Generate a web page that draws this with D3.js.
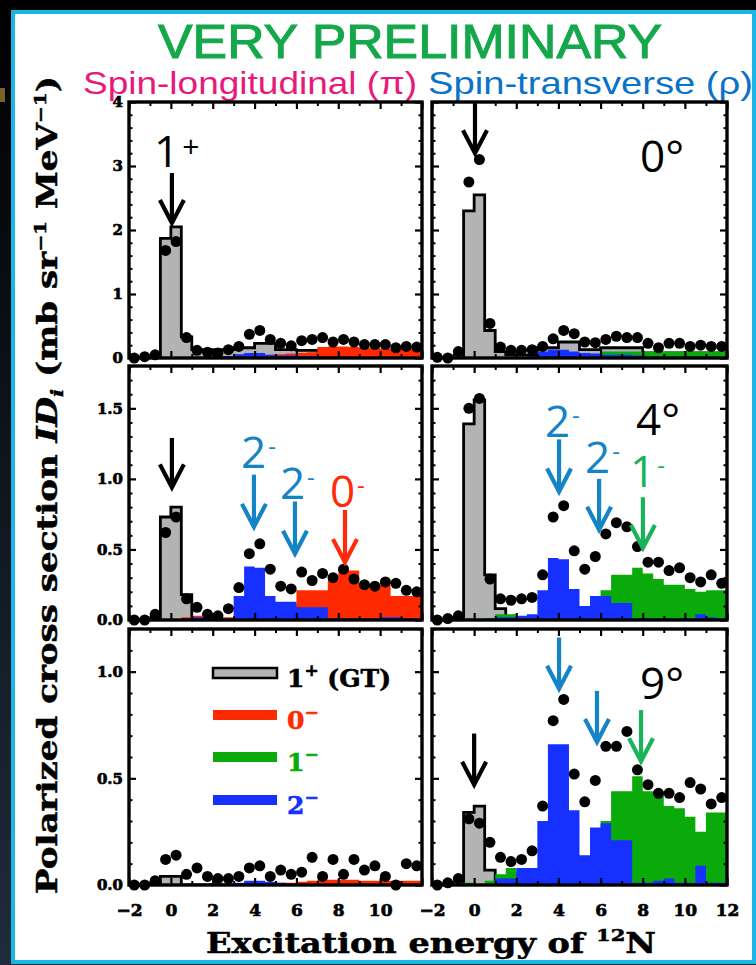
<!DOCTYPE html>
<html><head><meta charset="utf-8">
<script src="https://cdn.jsdelivr.net/npm/d3@7"></script>
<style>body{margin:0;background:#000;}svg{display:block}</style>
</head><body>
<svg id="c" width="756" height="965"></svg>
<script>
// ---------------- DATA ----------------
const energies = [-1.75,-1.25,-0.75,-0.25,0.25,0.75,1.25,1.75,2.25,2.75,3.25,3.75,4.25,4.75,5.25,5.75,6.25,6.75,7.25,7.75,8.25,8.75,9.25,9.75,10.25,10.75,11.25,11.75];
const binStarts = [-2,-1.5,-1,-0.5,0,0.5,1,1.5,2,2.5,3,3.5,4,4.5,5,5.5,6,6.5,7,7.5,8,8.5,9,9.5,10,10.5,11,11.5];
const binEnd = 12;
const xTickLabels = [-2,0,2,4,6,8,10,12];

// 0 deg, spin-longitudinal
const dotsTL  = [0.0,0.02,0.05,1.68,1.82,0.32,0.12,0.09,0.08,0.13,0.18,0.37,0.43,0.29,0.23,0.19,0.27,0.29,0.32,0.25,0.29,0.25,0.21,0.21,0.21,0.16,0.18,0.17];
const grayTL  = [0,0,0,1.87,2.05,0.33,0.13,0.13,0.13,0.13,0.16,0.16,0.23,0.23,0.13,0.13,0.12,0.12,0.1,0.1,0.1,0.1,0.1,0.1,0.1,0.1,0.1,0.1];
const redTL   = [0,0,0,0,0,0.01,0.02,0.02,0.02,0.03,0.03,0.04,0.05,0.05,0.06,0.07,0.08,0.09,0.17,0.18,0.18,0.17,0.16,0.16,0.15,0.15,0.14,0.14];
const greenTL = [0,0,0,0,0,0,0,0,0,0,0,0,0,0,0,0,0,0,0,0,0,0,0,0,0,0,0,0];
const blueTL  = [0,0,0,0,0,0,0.01,0.01,0.02,0.03,0.06,0.08,0.08,0.05,0.04,0.04,0.03,0.03,0.02,0.02,0.02,0.02,0.01,0.01,0.01,0.01,0.01,0.01];

// 0 deg, spin-transverse
const dotsTR  = [0.01,0.0,0.1,2.75,3.1,0.54,0.17,0.12,0.12,0.13,0.18,0.3,0.43,0.38,0.25,0.24,0.29,0.34,0.32,0.32,0.23,0.16,0.23,0.23,0.18,0.2,0.18,0.18];
const grayTR  = [0,0,0,2.3,2.55,0.43,0.1,0.05,0.05,0.05,0.16,0.16,0.25,0.25,0.13,0.13,0.16,0.16,0.16,0.16,0.08,0.08,0.08,0.08,0.08,0.08,0.08,0.08];
const redTR   = [0,0,0,0,0,0,0,0,0,0,0,0,0,0,0,0,0,0,0,0,0,0,0,0,0,0,0,0];
const greenTR = [0,0,0,0,0,0,0,0,0,0,0,0,0,0,0.03,0.05,0.1,0.1,0.1,0.1,0.1,0.1,0.1,0.1,0.1,0.1,0.1,0.1];
const blueTR  = [0,0,0,0,0,0,0,0,0.01,0.03,0.1,0.13,0.13,0.1,0.08,0.07,0.05,0.05,0.05,0.04,0.02,0.02,0.02,0.02,0.02,0.02,0.02,0.02];

// 4 deg, spin-longitudinal
const dotsML  = [0,0,0.04,0.62,0.73,0.15,0.09,0.04,0.03,0.08,0.23,0.47,0.54,0.36,0.24,0.22,0.34,0.28,0.33,0.3,0.36,0.29,0.25,0.24,0.27,0.26,0.21,0.2];
const grayML  = [0,0,0,0.73,0.8,0.18,0.01,0,0,0,0,0,0,0,0,0,0,0,0,0,0,0,0,0,0,0,0,0];
const redML   = [0,0,0,0,0,0.02,0.03,0.02,0.02,0.02,0.03,0.05,0.05,0.1,0.11,0.11,0.21,0.21,0.21,0.28,0.35,0.35,0.25,0.25,0.25,0.17,0.17,0.17];
const greenML = [0,0,0,0,0,0,0,0,0,0,0,0,0,0,0,0,0,0,0,0,0,0,0,0,0,0,0,0];
const blueML  = [0,0,0,0,0,0.01,0.02,0.02,0.01,0.01,0.17,0.38,0.37,0.17,0.13,0.13,0.09,0.09,0.09,0.01,0.01,0.01,0.01,0.01,0.02,0.02,0.01,0.01];

// 4 deg, spin-transverse
const dotsMR  = [0,0.01,0.03,1.5,1.57,0.29,0.15,0.14,0.15,0.16,0.32,0.73,0.81,0.49,0.36,0.45,0.61,0.69,0.66,0.52,0.41,0.41,0.35,0.37,0.3,0.27,0.32,0.26];
const grayMR  = [0,0,0,1.39,1.56,0.32,0.08,0,0,0,0,0,0,0,0,0,0,0,0,0,0,0,0,0,0,0,0,0];
const redMR   = [0,0,0,0,0,0,0,0,0,0,0,0,0,0,0,0,0,0,0,0,0,0,0,0,0,0,0,0];
const greenMR = [0,0,0,0.01,0.01,0.01,0.04,0.04,0.01,0.01,0,0,0,0,0,0,0.21,0.32,0.32,0.37,0.33,0.29,0.25,0.25,0.22,0.2,0.21,0.21];
const blueMR  = [0,0,0,0,0,0.01,0.02,0.02,0.03,0.04,0.21,0.44,0.43,0.22,0.1,0.17,0.17,0.12,0.12,0.01,0.01,0.01,0.01,0.01,0.01,0.04,0.02,0.01];

// 9 deg, spin-longitudinal
const dotsBL  = [0,0,0.02,0.12,0.14,0.05,0.08,0.04,0.03,0.03,0.04,0.08,0.09,0.04,0.07,0.05,0.06,0.13,0.04,0.12,0.05,0.12,0.07,0.09,0.04,0.0,0.1,0.09];
const grayBL  = [0,0,0,0.04,0.04,0,0,0,0,0,0,0,0,0,0,0,0,0,0,0,0,0,0,0,0,0,0,0];
const redBL   = [0,0,0,0,0,0,0,0,0,0,0,0,0,0.005,0.01,0.01,0.015,0.02,0.025,0.025,0.025,0.025,0.02,0.02,0.02,0.02,0.02,0.02];
const greenBL = [0,0,0,0,0,0,0,0,0,0,0,0,0,0,0,0,0,0,0,0,0,0,0,0,0,0,0,0];
const blueBL  = [0,0,0,0,0,0,0,0,0,0,0.01,0.02,0.02,0.015,0.01,0.005,0,0,0,0,0,0,0,0,0,0,0,0];

// 9 deg, spin-transverse
const dotsBR  = [0,0.01,0.03,0.31,0.29,0.2,0.13,0.11,0.12,0.16,0.37,0.77,0.87,0.52,0.39,0.49,0.65,0.65,0.72,0.54,0.47,0.43,0.43,0.41,0.48,0.45,0.38,0.41];
const grayBR  = [0,0,0,0.34,0.37,0.07,0,0,0,0,0,0,0,0,0,0,0,0,0,0,0,0,0,0,0,0,0,0];
const redBR   = [0,0,0,0,0,0,0,0,0,0,0,0,0,0,0,0,0,0,0,0,0,0,0,0,0,0,0,0];
const greenBR = [0,0,0,0.01,0,0.02,0.05,0.08,0.06,0.06,0.05,0.05,0.05,0.05,0.05,0.1,0.3,0.44,0.44,0.51,0.44,0.44,0.37,0.36,0.32,0.25,0.34,0.34];
const blueBR  = [0,0,0,0,0,0,0.03,0.03,0.08,0.08,0.3,0.66,0.66,0.35,0.14,0.27,0.29,0.21,0.21,0.01,0.01,0.02,0.03,0.01,0.01,0.09,0.01,0.01];

const legendLabels = [["1","+"," (GT)"],["0","−",""],["1","−",""],["2","−",""]];

// ---------------- STYLE / LAYOUT ----------------
const C = {gray:"#b3b3b3", red:"#ff2a00", green:"#0aaa0a", blue:"#1530ff",
           aBlack:"#000", aBlue:"#1584c6", aRed:"#ff2a0a", aGreen:"#19b35a"};
const cols = [[129,422],[432,727]];
const rows = [
  {range:[358,102], max:4,   major:[0,1,2,3,4],   minorStep:0.2, fmt:d3.format("d")},
  {range:[620,366], max:1.8, major:[0,0.5,1,1.5], minorStep:0.1, fmt:d3.format(".1f")},
  {range:[885,629], max:1.2, major:[0,0.5,1],     minorStep:0.1, fmt:d3.format(".1f")}
];
const panels = [
  {key:"TL",c:0,r:0,dots:dotsTL,gray:grayTL,red:redTL,green:greenTL,blue:blueTL},
  {key:"TR",c:1,r:0,dots:dotsTR,gray:grayTR,red:redTR,green:greenTR,blue:blueTR},
  {key:"ML",c:0,r:1,dots:dotsML,gray:grayML,red:redML,green:greenML,blue:blueML},
  {key:"MR",c:1,r:1,dots:dotsMR,gray:grayMR,red:redMR,green:greenMR,blue:blueMR},
  {key:"BL",c:0,r:2,dots:dotsBL,gray:grayBL,red:redBL,green:greenBL,blue:blueBL},
  {key:"BR",c:1,r:2,dots:dotsBR,gray:grayBR,red:redBR,green:greenBR,blue:blueBR}
];
// annotations in data coordinates (E, value)
const arrows = {
  TL:[{E:0.05,v0:2.89,v1:2.11,col:C.aBlack}],
  TR:[{E:0.04,v0:3.98,v1:3.2,col:C.aBlack}],
  ML:[{E:0.05,v0:1.29,v1:0.94,col:C.aBlack},{E:3.97,v0:1.03,v1:0.66,col:C.aBlue},{E:5.93,v0:0.84,v1:0.47,col:C.aBlue},{E:8.32,v0:0.78,v1:0.41,col:C.aRed}],
  MR:[{E:4.03,v0:1.28,v1:0.91,col:C.aBlue},{E:5.93,v0:1.0,v1:0.64,col:C.aBlue},{E:8.01,v0:0.87,v1:0.51,col:C.aGreen}],
  BL:[],
  BR:[{E:0.0,v0:0.71,v1:0.47,col:C.aBlack},{E:4.03,v0:1.16,v1:0.92,col:C.aBlue},{E:5.83,v0:0.91,v1:0.67,col:C.aBlue},{E:7.92,v0:0.82,v1:0.58,col:C.aGreen}]
};
const labels = {
  TL:[{E:-0.8,v:2.98,t:"1",s:"+",col:C.aBlack}],
  TR:[{E:7.87,v:2.91,t:"0°",s:"",col:C.aBlack}],
  ML:[{E:3.35,v:1.08,t:"2",s:"-",col:C.aBlue},{E:5.21,v:0.86,t:"2",s:"-",col:C.aBlue},{E:7.6,v:0.8,t:"0",s:"-",col:C.aRed}],
  MR:[{E:3.36,v:1.3,t:"2",s:"-",col:C.aBlue},{E:5.26,v:1.04,t:"2",s:"-",col:C.aBlue},{E:7.4,v:0.94,t:"1",s:"-",col:C.aGreen},{E:7.68,v:1.31,t:"4°",s:"",col:C.aBlack}],
  BL:[],
  BR:[{E:7.87,v:0.87,t:"9°",s:"",col:C.aBlack}]
};

const svg = d3.select("#c");
const defs = svg.append("defs");
const lg = defs.append("linearGradient").attr("id","bgL").attr("x1",0).attr("y1",0).attr("x2",0).attr("y2",1);
lg.append("stop").attr("offset","0%").attr("stop-color","#000");
lg.append("stop").attr("offset","100%").attr("stop-color","#1f2c3c");
svg.append("rect").attr("width",756).attr("height",965).attr("fill","url(#bgL)");
svg.append("rect").attr("x",0).attr("y",88).attr("width",5).attr("height",14).attr("fill","#7a6228");
svg.append("rect").attr("x",13).attr("y",12).attr("width",741).attr("height",950)
   .attr("fill","#fff").attr("stroke","#19b6e6").attr("stroke-width",4);

// header
svg.append("text").attr("x",158).attr("y",58).attr("textLength",504).attr("lengthAdjust","spacingAndGlyphs")
  .attr("font-family","Liberation Sans, Arial, sans-serif").attr("font-size",48).attr("fill","#14a84a")
  .attr("stroke","#14a84a").attr("stroke-width",1).text("VERY PRELIMINARY");
svg.append("text").attr("x",83).attr("y",94).attr("textLength",334).attr("lengthAdjust","spacingAndGlyphs")
  .attr("font-family","Liberation Sans, Arial, sans-serif").attr("font-size",32).attr("fill","#e8197c").text("Spin-longitudinal (π)");
svg.append("text").attr("x",428).attr("y",94).attr("textLength",325).attr("lengthAdjust","spacingAndGlyphs")
  .attr("font-family","Liberation Sans, Arial, sans-serif").attr("font-size",32).attr("fill","#0a72c8").text("Spin-transverse (ρ)");

const serif = "DejaVu Serif, serif";
const sans = "Open Sans, Liberation Sans, sans-serif";

panels.forEach(p=>{
  const row = rows[p.r];
  const x = d3.scaleLinear().domain([-2,12]).range(cols[p.c]);
  const y = d3.scaleLinear().domain([0,row.max]).range(row.range);
  const g = svg.append("g");
  const cid = "clip"+p.key;
  defs.append("clipPath").attr("id",cid).append("rect")
    .attr("x",x(-2)).attr("y",y(row.max)).attr("width",x(12)-x(-2)).attr("height",y(0)-y(row.max));
  const pg = g.append("g").attr("clip-path",`url(#${cid})`);
  const pts = arr => binStarts.map((b,i)=>[b,arr[i]]).concat([[binEnd,arr[arr.length-1]]]);
  const area = d3.area().x(d=>x(d[0])).y0(y(0)).y1(d=>y(d[1])).curve(d3.curveStepAfter);
  const line = d3.line().x(d=>x(d[0])).y(d=>y(d[1])).curve(d3.curveStepAfter);
  pg.append("path").attr("d",area(pts(p.gray))).attr("fill",C.gray);
  pg.append("path").attr("d",line(pts(p.gray))).attr("fill","none").attr("stroke","#000").attr("stroke-width",2.8);
  pg.append("path").attr("d",area(pts(p.red))).attr("fill",C.red);
  pg.append("path").attr("d",area(pts(p.green))).attr("fill",C.green);
  pg.append("path").attr("d",area(pts(p.blue))).attr("fill",C.blue);

  // axes (inside ticks)
  const xMinor = [-1,1,3,5,7,9,11];
  const yMinor = d3.range(0,row.max+1e-9,row.minorStep).filter(v=>!row.major.some(m=>Math.abs(m-v)<1e-6));
  const styleAxis = (sel,w)=>{sel.select(".domain").remove();sel.selectAll(".tick line").attr("stroke-width",w);};
  const isBottom = p.r===2, isLeft = p.c===0;
  const gb = g.append("g").attr("transform",`translate(0,${y(0)})`)
    .call(d3.axisBottom(x).tickValues(xTickLabels).tickSize(-7).tickPadding(19)
      .tickFormat(d=> isBottom && !(isLeft && d===12) ? (d<0?"−"+Math.abs(d):String(d)) : ""));
  styleAxis(gb,2.2);
  gb.selectAll("text").attr("font-family",serif).attr("font-weight","bold").attr("font-size",17)
    .attr("fill","#000").attr("stroke","#000").attr("stroke-width",0.7);
  styleAxis(g.append("g").attr("transform",`translate(0,${y(0)})`).call(d3.axisBottom(x).tickValues(xMinor).tickSize(-4).tickFormat("")),2);
  styleAxis(g.append("g").attr("transform",`translate(0,${y(row.max)})`).call(d3.axisTop(x).tickValues(xTickLabels).tickSize(-7).tickFormat("")),2.2);
  styleAxis(g.append("g").attr("transform",`translate(0,${y(row.max)})`).call(d3.axisTop(x).tickValues(xMinor).tickSize(-4).tickFormat("")),2);
  const gl = g.append("g").attr("transform",`translate(${x(-2)},0)`)
    .call(d3.axisLeft(y).tickValues(row.major).tickSize(-7).tickPadding(6).tickFormat(d=> isLeft ? row.fmt(d) : ""));
  styleAxis(gl,2.2);
  gl.selectAll("text").attr("font-family",serif).attr("font-weight","bold").attr("font-size",15)
    .attr("fill","#000").attr("stroke","#000").attr("stroke-width",0.7);
  styleAxis(g.append("g").attr("transform",`translate(${x(-2)},0)`).call(d3.axisLeft(y).tickValues(yMinor).tickSize(-3.5).tickFormat("")),2);
  styleAxis(g.append("g").attr("transform",`translate(${x(12)},0)`).call(d3.axisRight(y).tickValues(row.major).tickSize(-7).tickFormat("")),2.2);
  styleAxis(g.append("g").attr("transform",`translate(${x(12)},0)`).call(d3.axisRight(y).tickValues(yMinor).tickSize(-3.5).tickFormat("")),2);

  // frame
  g.append("rect").attr("x",x(-2)).attr("y",y(row.max)).attr("width",x(12)-x(-2)).attr("height",y(0)-y(row.max))
    .attr("fill","none").attr("stroke","#000").attr("stroke-width",3.4);

  // dots
  g.selectAll("circle.d").data(p.dots).join("circle").attr("class","d")
    .attr("cx",(d,i)=>x(energies[i])).attr("cy",d=>y(d)).attr("r",5.5).attr("fill","#000");

  // arrows
  arrows[p.key].forEach(a=>{
    const ax=x(a.E), y0=y(a.v0), y1=y(a.v1);
    g.append("line").attr("x1",ax).attr("x2",ax).attr("y1",y0).attr("y2",y1-2)
      .attr("stroke",a.col).attr("stroke-width",4.2);
    g.append("path").attr("d",`M${ax-12},${y1-23}L${ax},${y1}L${ax+12},${y1-23}`)
      .attr("fill","none").attr("stroke",a.col).attr("stroke-width",4.2).attr("stroke-linejoin","miter");
  });
  // labels
  labels[p.key].forEach(l=>{
    const t = g.append("text").attr("x",x(l.E)).attr("y",y(l.v)).attr("font-family",sans)
      .attr("font-size",44).attr("fill",l.col).text(l.t);
    if(l.s==="+") t.append("tspan").attr("font-size",30).attr("dx",3).attr("dy",-10).text("+");
    else if(l.s==="-") t.append("tspan").attr("font-size",24).attr("dx",2).attr("dy",-13).text("-");
  });

  // legend in BL panel
  if(p.key==="BL"){
    const lx0 = x(-2)+84, lw = 64;
    const lys = [673, 715, 757, 800];
    const lcol = [C.gray, C.red, C.green, C.blue];
    const tcol = ["#000", C.red, C.green, C.blue];
    lys.forEach((ly,i)=>{
      g.append("rect").attr("x",lx0).attr("y",ly-5).attr("width",lw).attr("height",10).attr("fill",lcol[i])
        .attr("stroke", i===0?"#000":"none").attr("stroke-width",2.5);
      const t = g.append("text").attr("x",lx0+lw+10).attr("y",ly+14).attr("font-family",serif)
        .attr("font-weight","bold").attr("font-size",25).attr("fill",tcol[i])
        .attr("stroke",tcol[i]).attr("stroke-width",0.6).text(legendLabels[i][0]);
      t.append("tspan").attr("font-size",17).attr("dy",-11).text(legendLabels[i][1]);
      if(legendLabels[i][2]) t.append("tspan").attr("dy",11).text(legendLabels[i][2]);
    });
  }
});

// axis titles
const yt = svg.append("text").attr("transform","translate(57,485) rotate(-90)").attr("text-anchor","middle")
  .attr("font-family",serif).attr("font-weight","bold").attr("font-size",27).attr("fill","#000")
  .attr("stroke","#000").attr("stroke-width",0.5)
  .attr("textLength",818).attr("lengthAdjust","spacingAndGlyphs");
yt.append("tspan").text("Polarized cross section ");
yt.append("tspan").attr("font-style","italic").text("ID");
yt.append("tspan").attr("font-style","italic").attr("font-size",17).attr("dy",6).text("i");
yt.append("tspan").attr("dy",-6).text(" (mb sr");
yt.append("tspan").attr("font-size",16).attr("dy",-11).text("−1");
yt.append("tspan").attr("dy",11).text(" MeV");
yt.append("tspan").attr("font-size",16).attr("dy",-11).text("−1");
yt.append("tspan").attr("dy",11).text(")");

const xt = svg.append("text").attr("x",431).attr("y",953).attr("text-anchor","middle")
  .attr("font-family",serif).attr("font-weight","bold").attr("font-size",27).attr("fill","#000")
  .attr("stroke","#000").attr("stroke-width",0.5)
  .attr("textLength",450).attr("lengthAdjust","spacingAndGlyphs");
xt.append("tspan").text("Excitation energy of ");
xt.append("tspan").attr("font-size",17).attr("dy",-12).text("12");
xt.append("tspan").attr("dy",12).text("N");
</script>
</body></html>
